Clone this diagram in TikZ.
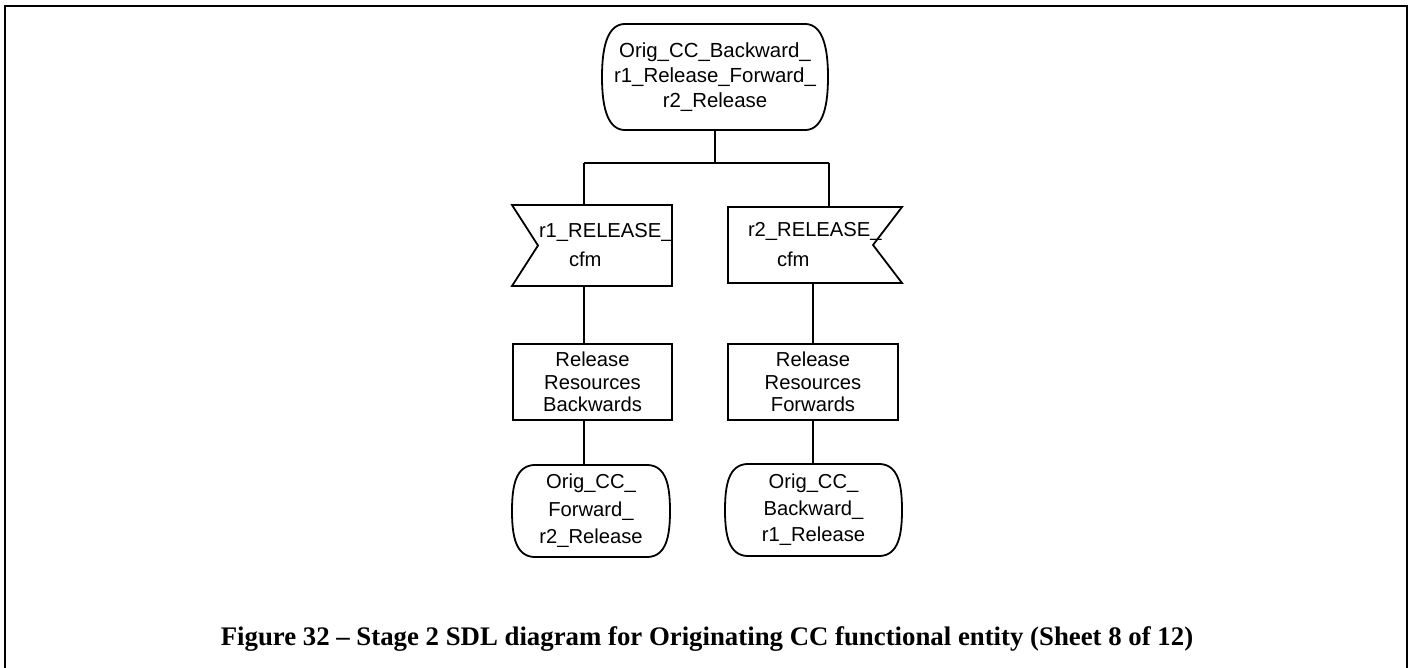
\documentclass[tikz,border=0pt]{standalone}
\usepackage{fontspec}
\newfontfamily\sdlfont{Liberation Sans}
\newfontfamily\capfont{Liberation Serif}
\usetikzlibrary{calc}
\newcommand\sdlstate[1]{%
  \draw[outline] ($(#1.north west)+(22pt,0pt)$) -- ($(#1.north east)+(-22pt,0pt)$)
    .. controls ($(#1.north east)+(-4pt,-1pt)$) and ($(#1.east)+(0pt,26pt)$) .. (#1.east)
    .. controls ($(#1.east)+(0pt,-26pt)$) and ($(#1.south east)+(-4pt,1pt)$) .. ($(#1.south east)+(-22pt,0pt)$)
    -- ($(#1.south west)+(22pt,0pt)$)
    .. controls ($(#1.south west)+(4pt,1pt)$) and ($(#1.west)+(0pt,-26pt)$) .. (#1.west)
    .. controls ($(#1.west)+(0pt,26pt)$) and ($(#1.north west)+(4pt,-1pt)$) .. cycle;}
\newcommand\sdlinputW[2]{%
  \draw[outline] (#1.north west) -- (#1.north east) -- (#1.south east) -- (#1.south west)
    -- ($(#1.west)+(#2pt,0pt)$) -- cycle;}
\newcommand\sdlinputE[2]{%
  \draw[outline] (#1.north east) -- (#1.north west) -- (#1.south west) -- (#1.south east)
    -- ($(#1.east)+(-#2pt,0pt)$) -- cycle;}
\tikzset{
  outline/.style={line width=1.8pt, line join=miter},
  conn/.style={line width=1.8pt},
  sdlbase/.style={inner sep=0pt, outer sep=0pt, align=center},
  statebox/.style={sdlbase, draw=none},
  inputbox/.style={sdlbase, draw=none, align=left},
  taskbox/.style={sdlbase, draw, line width=1.8pt},
}
\begin{document}
\begin{tikzpicture}[x=1pt,y=-1pt]
\useasboundingbox (0,0) rectangle (1414,668);
% frame
\draw[line width=2.5pt] (5,672) -- (5,6) -- (1407,6) -- (1407,672);

\node[statebox, minimum width=226pt, minimum height=106pt,
  font={\sdlfont\fontsize{20.4}{25}\selectfont}] (s0) at (715,77)
  {Orig\_CC\_Backward\_\\r1\_Release\_Forward\_\\r2\_Release};
\sdlstate{s0}

\node[inputbox, minimum width=160pt, minimum height=81pt, text width=160pt,
  font={\sdlfont\fontsize{20.2}{29}\selectfont}] (i1) at (592,245.5)
  {\hspace*{27pt}r1\_RELEASE\_\\\hspace*{57pt}cfm};
\sdlinputW{i1}{26}

\node[inputbox, minimum width=174pt, minimum height=76pt, text width=174pt,
  font={\sdlfont\fontsize{20.2}{30}\selectfont}] (i2) at (815,245)
  {\hspace*{20pt}r2\_RELEASE\_\\\hspace*{49pt}cfm};
\sdlinputE{i2}{29}

\node[taskbox, minimum width=159pt, minimum height=76pt,
  font={\sdlfont\fontsize{20.2}{22.5}\selectfont}] (t1) at (592.5,382)
  {Release\\Resources\\Backwards};
\node[taskbox, minimum width=170pt, minimum height=76pt,
  font={\sdlfont\fontsize{20.2}{22.5}\selectfont}] (t2) at (813,382)
  {Release\\Resources\\Forwards};

\node[statebox, minimum width=158pt, minimum height=92pt,
  font={\sdlfont\fontsize{20.2}{27.5}\selectfont}] (s1) at (591,511)
  {Orig\_CC\_\\Forward\_\\r2\_Release};
\sdlstate{s1}
\node[statebox, minimum width=177pt, minimum height=92pt,
  font={\sdlfont\fontsize{20.2}{26.5}\selectfont}] (s2) at (813.5,510)
  {Orig\_CC\_\\Backward\_\\r1\_Release};
\sdlstate{s2}

\coordinate (jL) at (584,163);
\coordinate (jR) at (829,163);
\draw[conn] (s0.south) -- (s0.south |- jL);
\draw[conn] (jL) -- (jR);
\draw[conn] (jL) -- (jL |- i1.north);
\draw[conn] (jR) -- (jR |- i2.north);
\draw[conn] (jL |- i1.south) -- (jL |- t1.north);
\draw[conn] (jL |- t1.south) -- (jL |- s1.north);
\draw[conn] (t2.north |- i2.south) -- (t2.north);
\draw[conn] (t2.south) -- (t2.south |- s2.north);

\node[inner sep=0pt, font={\capfont\bfseries\fontsize{26.8}{30}\selectfont}] (cap) at (707,639)
  {Figure 32 – Stage 2 SDL diagram for Originating CC functional entity (Sheet 8 of 12)};
\end{tikzpicture}
\end{document}
